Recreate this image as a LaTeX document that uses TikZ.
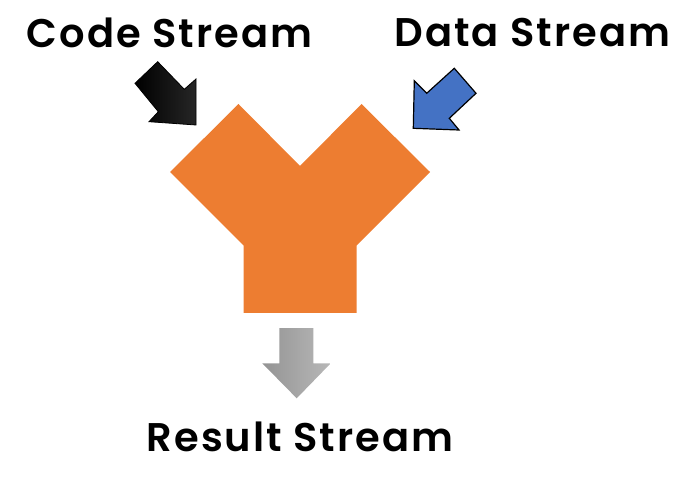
\documentclass[tikz,border=0pt]{standalone}
\usepackage{fontspec}
\setmainfont{Poppins}
\newfontfamily\lblfont{Poppins}[UprightFont=* SemiBold, LetterSpace=5]
\definecolor{yorange}{HTML}{ED7D31}
\definecolor{dblue}{HTML}{4472C4}
\begin{document}
\begin{tikzpicture}[x=1pt,y=-1pt,
  lbl/.style={font=\lblfont\fontsize{40}{48}\selectfont, anchor=base, inner sep=0pt, text=black},
  inarrow/.style={draw=black, line width=1.2pt, line join=miter}]
\useasboundingbox (0,0) rectangle (696,486);
% labels
\node[lbl] (code) at (169.5,48) {Code Stream};
\node[lbl] (data) at (532.5,46.5) {Data Stream};
\node[lbl] (result) at (300,451.5) {Result Stream};
% Y shape
\fill[yorange] (238.5,104) -- (300,166) -- (361.5,104) -- (430,172) -- (356.5,245.5)
  -- (356.5,313) -- (243.5,313) -- (243.5,245.5) -- (170,172) -- cycle;
% black input arrow
\shade[left color=black, right color=black!85!white, draw=black, line width=0.8pt]
  (157.7,61.7) -- (184.3,89.3) -- (196,79) -- (196,125) -- (149,121.7)
  -- (158.3,111.7) -- (135,83.3) -- cycle;
% blue input arrow
\filldraw[inarrow, fill=dblue]
  (454.3,68.3) -- (476,93.3) -- (449.3,118.3) -- (459,130) -- (413.3,128.3)
  -- (414.3,80.7) -- (426.7,93.3) -- cycle;
% gray output arrow
\shade[left color=black!42, right color=black!28]
  (279.3,328) -- (313.3,328) -- (313.3,363.3) -- (330.7,363.3) -- (296.7,398.3)
  -- (262.3,363.3) -- (279.3,363.3) -- cycle;
\end{tikzpicture}
\end{document}
